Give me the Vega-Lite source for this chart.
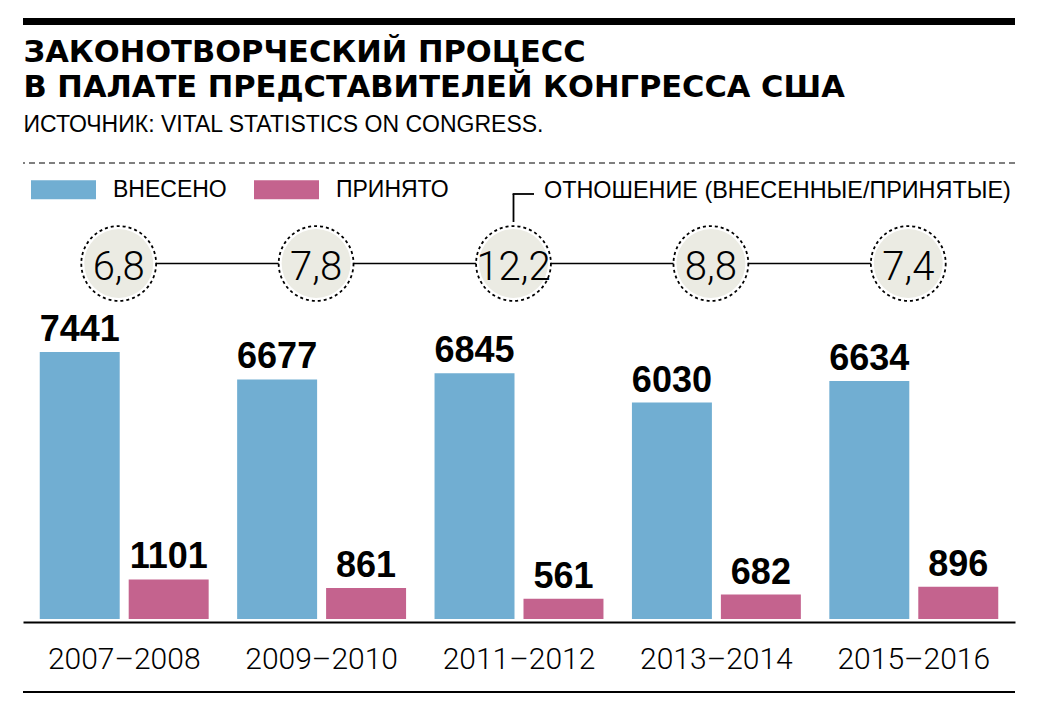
{
  "$schema": "https://vega.github.io/schema/vega-lite/v6.json",
  "autosize": {"type": "none"},
  "width": 992,
  "height": 472,
  "padding": {"left": 23, "top": 150, "right": 27, "bottom": 99},
  "background": "white",
  "config": {"view": {"stroke": null}, "font": "Liberation Sans"},
  "datasets": {
    "bars": [
      {"period": "2007–2008", "series": "ВНЕСЕНО", "value": 7441},
      {"period": "2007–2008", "series": "ПРИНЯТО", "value": 1101},
      {"period": "2009–2010", "series": "ВНЕСЕНО", "value": 6677},
      {"period": "2009–2010", "series": "ПРИНЯТО", "value": 861},
      {"period": "2011–2012", "series": "ВНЕСЕНО", "value": 6845},
      {"period": "2011–2012", "series": "ПРИНЯТО", "value": 561},
      {"period": "2013–2014", "series": "ВНЕСЕНО", "value": 6030},
      {"period": "2013–2014", "series": "ПРИНЯТО", "value": 682},
      {"period": "2015–2016", "series": "ВНЕСЕНО", "value": 6634},
      {"period": "2015–2016", "series": "ПРИНЯТО", "value": 896}
    ],
    "ratios": [
      {"period": "2007–2008", "ratio": "6,8"},
      {"period": "2009–2010", "ratio": "7,8"},
      {"period": "2011–2012", "ratio": "12,2"},
      {"period": "2013–2014", "ratio": "8,8"},
      {"period": "2015–2016", "ratio": "7,4"}
    ]
  },
  "layer": [
    {
      "data": {"name": "bars"},
      "mark": {"type": "bar"},
      "encoding": {
        "x": {
          "field": "period", "type": "nominal",
          "scale": {"domain": ["2007–2008", "2009–2010", "2011–2012", "2013–2014", "2015–2016"], "paddingInner": 0, "paddingOuter": 0.0127},
          "axis": {"title": null, "orient": "bottom", "ticks": false, "tickSize": 0, "domainColor": "#000", "domainWidth": 2, "labelFont": "Roboto", "labelFontWeight": 300, "labelFontSize": 30, "labelColor": "#000", "labelBaseline": "alphabetic", "labelPadding": 46, "labelAngle": 0, "grid": false}
        },
        "xOffset": {"field": "series", "type": "nominal", "scale": {"domain": ["ВНЕСЕНО", "ПРИНЯТО"], "paddingInner": 0.101, "paddingOuter": 0.16}},
        "y": {"field": "value", "type": "quantitative", "scale": {"domain": [-84, 13070], "nice": false, "zero": false}, "axis": null},
        "color": {
          "field": "series", "type": "nominal",
          "scale": {"domain": ["ВНЕСЕНО", "ПРИНЯТО"], "range": ["#71aed2", "#c4638e"]},
          "legend": {"orient": "none", "legendX": 8, "legendY": 7, "direction": "horizontal", "title": null, "symbolType": "M-1,-0.2923H1V0.2923H-1Z", "symbolSize": 4225, "symbolStrokeWidth": 0, "symbolOpacity": 1, "labelFont": "Liberation Sans", "labelFontSize": 23, "labelColor": "#000", "labelOffset": 17, "columnPadding": 27}
        }
      }
    },
    {
      "data": {"name": "bars"},
      "mark": {"type": "text", "font": "Liberation Sans", "fontWeight": "bold", "fontSize": 36, "baseline": "alphabetic", "dy": -11, "color": "#000"},
      "encoding": {
        "x": {"field": "period", "type": "nominal"},
        "xOffset": {"field": "series", "type": "nominal"},
        "y": {"field": "value", "type": "quantitative"},
        "text": {"field": "value", "type": "quantitative", "format": "d"}
      }
    },
    {
      "data": {"values": [{}]},
      "mark": {"type": "rule", "color": "#000", "strokeWidth": 1.5, "xOffset": -5.5, "x2Offset": -5.5},
      "encoding": {"x": {"datum": "2007–2008", "type": "nominal"}, "x2": {"datum": "2015–2016"}, "y": {"datum": 9907}}
    },
    {
      "data": {"name": "ratios"},
      "mark": {"type": "point", "shape": "circle", "filled": true, "size": 5600, "fill": "#ffffff", "stroke": "#000", "strokeWidth": 1.8, "strokeDash": [3, 3], "opacity": 1, "fillOpacity": 1, "strokeOpacity": 1, "xOffset": -5.5},
      "encoding": {"x": {"field": "period", "type": "nominal"}, "y": {"datum": 9907}}
    },
    {
      "data": {"name": "ratios"},
      "mark": {"type": "point", "shape": "circle", "filled": true, "size": 4750, "fill": "#ebebe3", "strokeWidth": 0, "opacity": 1, "xOffset": -5.5},
      "encoding": {"x": {"field": "period", "type": "nominal"}, "y": {"datum": 9907}}
    },
    {
      "data": {"name": "ratios"},
      "mark": {"type": "text", "font": "Roboto", "fontWeight": 300, "fontSize": 40, "baseline": "alphabetic", "align": "center", "color": "#000", "xOffset": -5.5},
      "encoding": {"x": {"field": "period", "type": "nominal"}, "y": {"datum": 9447}, "text": {"field": "ratio"}}
    },
    {
      "data": {"values": [{}]},
      "mark": {"type": "rule", "color": "#000", "strokeWidth": 1.8, "xOffset": -5.5},
      "encoding": {"x": {"datum": "2011–2012", "type": "nominal"}, "y": {"datum": 11844}, "y2": {"datum": 11064}}
    },
    {
      "data": {"values": [{}]},
      "mark": {"type": "rule", "color": "#000", "strokeWidth": 1.8, "xOffset": -6.4, "x2Offset": 15},
      "encoding": {"x": {"datum": "2011–2012", "type": "nominal"}, "x2": {"datum": "2011–2012"}, "y": {"datum": 11844}}
    },
    {
      "data": {"values": [{}]},
      "mark": {"type": "text", "text": "ОТНОШЕНИЕ (ВНЕСЕННЫЕ/ПРИНЯТЫЕ)", "font": "Liberation Sans", "fontSize": 23.4, "align": "left", "baseline": "alphabetic", "dx": 25, "color": "#000"},
      "encoding": {"x": {"datum": "2011–2012", "type": "nominal"}, "y": {"datum": 11733}}
    },
    {
      "data": {"values": [{}]},
      "mark": {"type": "rule", "color": "#000", "strokeWidth": 7},
      "encoding": {"y": {"datum": 16651}}
    },
    {
      "data": {"values": [{}]},
      "mark": {"type": "rule", "color": "#555", "strokeWidth": 1.5, "strokeDash": [6, 4]},
      "encoding": {"y": {"datum": 12708}}
    },
    {
      "data": {"values": [{}]},
      "mark": {"type": "rule", "color": "#000", "strokeWidth": 2},
      "encoding": {"y": {"datum": -2034}}
    },
    {
      "data": {"values": [{}]},
      "mark": {"type": "text", "text": "ЗАКОНОТВОРЧЕСКИЙ ПРОЦЕСС", "font": "DejaVu Sans", "fontWeight": "bold", "fontSize": 30.5, "align": "left", "baseline": "alphabetic", "dx": -2, "color": "#000"},
      "encoding": {"x": {"datum": "2007–2008", "type": "nominal", "bandPosition": 0}, "y": {"datum": 15523}}
    },
    {
      "data": {"values": [{}]},
      "mark": {"type": "text", "text": "В ПАЛАТЕ ПРЕДСТАВИТЕЛЕЙ КОНГРЕССА США", "font": "DejaVu Sans", "fontWeight": "bold", "fontSize": 30.5, "align": "left", "baseline": "alphabetic", "dx": -2, "color": "#000"},
      "encoding": {"x": {"datum": "2007–2008", "type": "nominal", "bandPosition": 0}, "y": {"datum": 14547}}
    },
    {
      "data": {"values": [{}]},
      "mark": {"type": "text", "text": "ИСТОЧНИК: VITAL STATISTICS ON CONGRESS.", "font": "Liberation Sans", "fontSize": 23, "align": "left", "baseline": "alphabetic", "dx": -2, "color": "#000"},
      "encoding": {"x": {"datum": "2007–2008", "type": "nominal", "bandPosition": 0}, "y": {"datum": 13572}}
    }
  ]
}
